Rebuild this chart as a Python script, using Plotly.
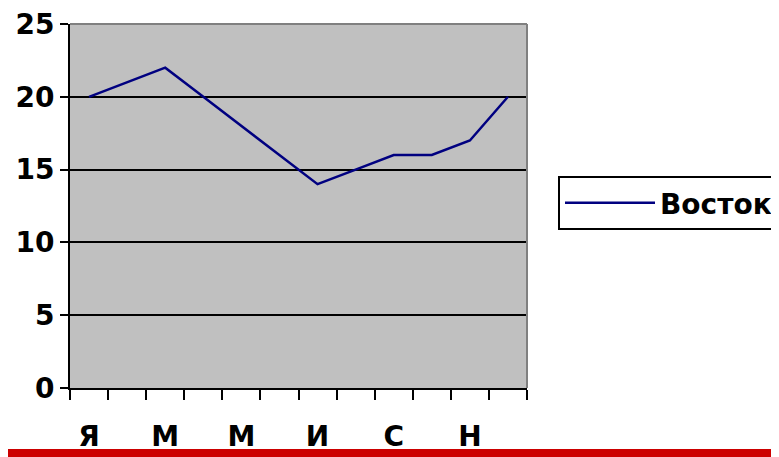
import plotly.graph_objects as go

months = ["Я", "Ф", "М", "А", "М", "И", "И", "А", "С", "О", "Н", "Д"]
vostok = [20, 21, 22, 20, 18, 16, 14, 15, 16, 16, 17, 20]
tick_labels = ["Я", "М", "М", "И", "С", "Н"]
y_ticks = [0, 5, 10, 15, 20, 25]

x_pos = list(range(1, len(months) + 1))
label_pos = x_pos[::2]
boundaries = [i + 0.5 for i in range(0, len(months) + 1)]

# the page body adds an 8px offset; the figure is sized to fill the rest
OFF = 8
W, H = 779 - OFF, 457 - OFF
L, R, T, B = 70 - OFF, 252, 16, 69
pw = W - L - R
ph = H - T - B
plot_bottom = H - B + OFF  # viewport y of the x axis

fig = go.Figure()
fig.add_trace(go.Scatter(
    x=x_pos, y=vostok, mode="lines", name="Восток",
    line=dict(color="#000080", width=2.5),
))

fig.update_layout(
    width=W, height=H,
    margin=dict(l=L, r=R, t=T, b=B, autoexpand=False),
    paper_bgcolor="white",
    plot_bgcolor="#C0C0C0",
    showlegend=True,
    legend=dict(
        x=(558 - 70) / pw, y=(plot_bottom - 176) / ph, xanchor="left", yanchor="top",
        bgcolor="white", bordercolor="black", borderwidth=2,
        font=dict(family="DejaVu Sans", size=28, color="black", weight="bold"),
        itemwidth=90,
    ),
    xaxis=dict(
        range=[0.5, 12.5], showgrid=False, zeroline=False, automargin=False,
        tickmode="array", tickvals=label_pos, ticktext=tick_labels,
        ticks="", ticklabelstandoff=22, ticklabeloverflow="allow",
        tickfont=dict(family="DejaVu Sans", size=28, color="black", weight="bold"),
        showline=True, linecolor="black", linewidth=2,
        minor=dict(tickmode="array", tickvals=boundaries, ticks="outside",
                   ticklen=10, tickwidth=2, tickcolor="black", showgrid=False),
    ),
    yaxis=dict(
        range=[0, 25], tickmode="array", tickvals=y_ticks, automargin=False,
        showgrid=True, gridcolor="black", gridwidth=2, zeroline=False,
        ticks="outside", ticklen=8, tickwidth=2, tickcolor="black",
        ticklabeloverflow="allow",
        tickfont=dict(family="DejaVu Sans", size=28, color="black", weight="bold"),
        showline=True, linecolor="black", linewidth=2,
    ),
)

# top and right gray border of plot area
fig.add_shape(type="line", xref="paper", yref="paper", x0=0, x1=1, y0=1, y1=1,
              line=dict(color="#808080", width=2))
fig.add_shape(type="line", xref="paper", yref="paper", x0=1, x1=1, y0=0, y1=1,
              line=dict(color="#808080", width=2))

# red bar at the bottom of the slide
fig.add_shape(type="rect", xref="paper", yref="paper",
              x0=-L / pw - 0.05, x1=(W - L) / pw + 0.05,
              y0=(plot_bottom - 457) / ph - 0.03, y1=(plot_bottom - 449) / ph,
              fillcolor="#CC0000", line=dict(width=0), layer="above")

fig.write_html("out.html")
